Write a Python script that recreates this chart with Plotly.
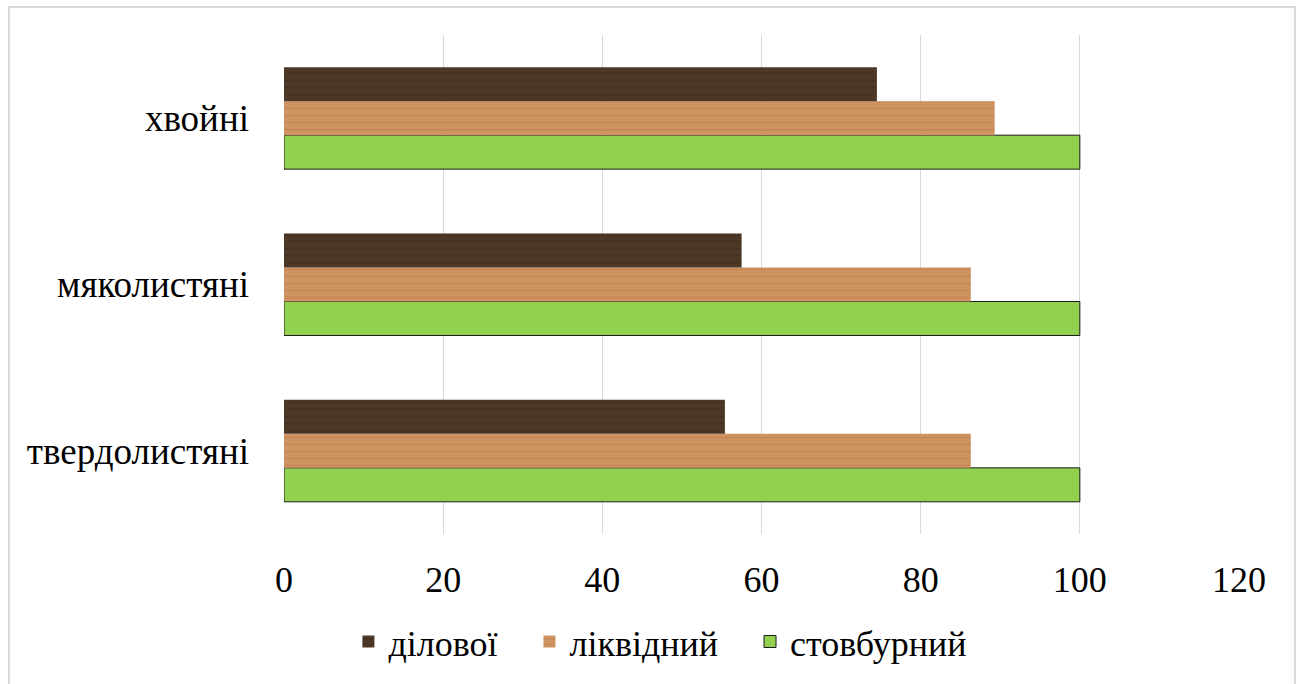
import plotly.graph_objects as go

# Categories listed bottom-to-top as drawn on the y axis
categories = ["твердолистяні", "мяколистяні", "хвойні"]

# Output of timber by assortment group, %
dilovoi = [55.4, 57.5, 74.5]
likvidnyi = [86.3, 86.3, 89.3]
stovburnyi = [100, 100, 100]

x_ticks = [0, 20, 40, 60, 80, 100, 120]

FONT = "Liberation Serif, Times New Roman, serif"
GAP = "\u00a0" * 3  # extra spacing after a legend entry

fig = go.Figure()

# Traces are added bottom-first so that "ділової" sits on top in each group
fig.add_trace(go.Bar(
    name="стовбурний", y=categories, x=stovburnyi, orientation="h",
    marker=dict(color="#92d050", line=dict(color="#1a1a1a", width=1)),
))
fig.add_trace(go.Bar(
    name="ліквідний" + GAP, y=categories, x=likvidnyi, orientation="h",
    marker=dict(
        color="#d09462", line=dict(width=0),
        pattern=dict(shape="-", fgcolor="#bb7f4a", size=7, solidity=0.3,
                     fillmode="overlay"),
    ),
))
fig.add_trace(go.Bar(
    name="ділової" + GAP, y=categories, x=dilovoi, orientation="h",
    marker=dict(
        color="#4d3827", line=dict(width=0),
        pattern=dict(shape="-", fgcolor="#3b2a1d", size=7, solidity=0.3,
                     fillmode="overlay"),
    ),
))

# Light outer frame around the chart area
fig.add_shape(
    type="rect", xref="paper", yref="paper",
    x0=-0.288, x1=1.0586, y0=-0.40, y1=1.056,
    line=dict(color="#d9d9d9", width=2), layer="below",
)

fig.update_layout(
    width=1300, height=684,
    margin=dict(l=284, r=61, t=35, b=150),
    paper_bgcolor="white", plot_bgcolor="white",
    barmode="group", bargap=0.387, bargroupgap=0,
    font=dict(family=FONT, size=36, color="black"),
    showlegend=True,
    legend=dict(
        orientation="h", traceorder="reversed",
        xref="container", yref="container",
        x=0.508, xanchor="center", y=0.062, yanchor="middle",
        font=dict(family=FONT, size=36, color="black"),
    ),
    xaxis=dict(
        range=[0, 120], tickvals=x_ticks, ticktext=[str(v) for v in x_ticks],
        showgrid=True, gridcolor="#d9d9d9", gridwidth=1,
        zeroline=False, showline=False, ticks="",
        ticklabelstandoff=21,
        tickfont=dict(family=FONT, size=36, color="black"),
    ),
    yaxis=dict(
        categoryorder="array", categoryarray=categories,
        showgrid=False, zeroline=False, showline=False, ticks="",
        ticklabelstandoff=34,
        tickfont=dict(family=FONT, size=37, color="black"),
    ),
)

fig.write_html("out.html")
